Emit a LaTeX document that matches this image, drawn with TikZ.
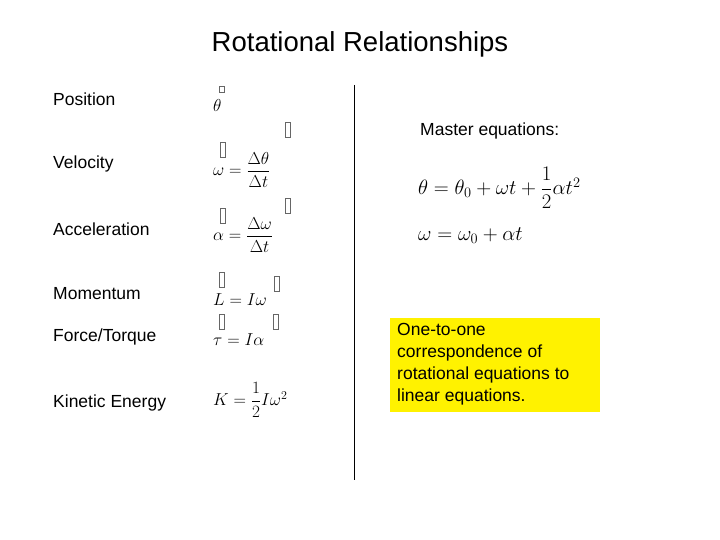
\documentclass[tikz,border=0pt]{standalone}
\usepackage{amsmath}
\usepackage{fontspec}
\setmainfont{Liberation Sans}
\begin{document}
\begin{tikzpicture}[x=1pt,y=-1pt,
  lbl/.style={anchor=west,font=\fontsize{17.5}{20}\selectfont,inner sep=0},
  eq/.style={anchor=west,font=\fontsize{18.5}{22}\selectfont,inner sep=0},
  meq/.style={anchor=west,font=\fontsize{20}{22}\selectfont,inner sep=0},
  gbox/.style={draw=black!60,line width=0.7pt,minimum width=5pt,minimum height=15pt,inner sep=0}]
\useasboundingbox (0,0) rectangle (720,540);
\node[font=\fontsize{27.5}{30}\selectfont] (title) at (360,44) {Rotational Relationships};
\node[lbl] (p) at (53,99) {Position};
\node[lbl] (v) at (53,164) {Velocity};
\node[lbl] (a) at (53,229) {Acceleration};
\node[lbl] (m) at (53,294) {Momentum};
\node[lbl] (f) at (53,337) {Force/Torque};
\node[lbl] (k) at (53,403) {Kinetic Energy};
\node[eq] (e1) at (213,106) {$\theta$};
\node[gbox,minimum height=6pt] (b1) at (222,89) {};
\node[eq] (e2) at (213,170) {$\omega=\dfrac{\Delta\theta}{\Delta t}$};
\node[gbox] (b2) at (223,150) {};
\node[gbox] (b3) at (288,130) {};
\node[eq] (e3) at (213,235) {$\alpha=\dfrac{\Delta\omega}{\Delta t}$};
\node[gbox] (b4) at (223,216) {};
\node[gbox] (b5) at (288,206) {};
\node[eq] (e4) at (213,300) {$L=I\omega$};
\node[gbox] (b6) at (222,280) {};
\node[gbox] (b7) at (277,284) {};
\node[eq] (e5) at (213,340) {$\tau=I\alpha$};
\node[gbox] (b8) at (222,322) {};
\node[gbox] (b9) at (276,322) {};
\node[eq] (e6) at (213,400) {$K=\dfrac{1}{2}I\omega^2$};
\coordinate (lt) at (354,85);
\coordinate (lb) at (354,480);
\draw[line width=0.8pt] (lt) -- (lb);
\node[lbl] (me) at (420,131) {Master equations:};
\node[meq] (m1) at (418,188) {$\theta=\theta_0+\omega t+\dfrac{1}{2}\alpha t^2$};
\node[meq] (m2) at (418,236) {$\omega=\omega_0+\alpha t$};
\node[fill=yellow,anchor=north west,minimum width=210pt,minimum height=94pt,inner sep=0] (yb) at (390,318) {};
\node[anchor=north west,align=left,font=\fontsize{17.5}{22}\selectfont,inner sep=0] (yt) at (397,323) {One-to-one\\correspondence of\\rotational equations to\\linear equations.};
\end{tikzpicture}
\end{document}
